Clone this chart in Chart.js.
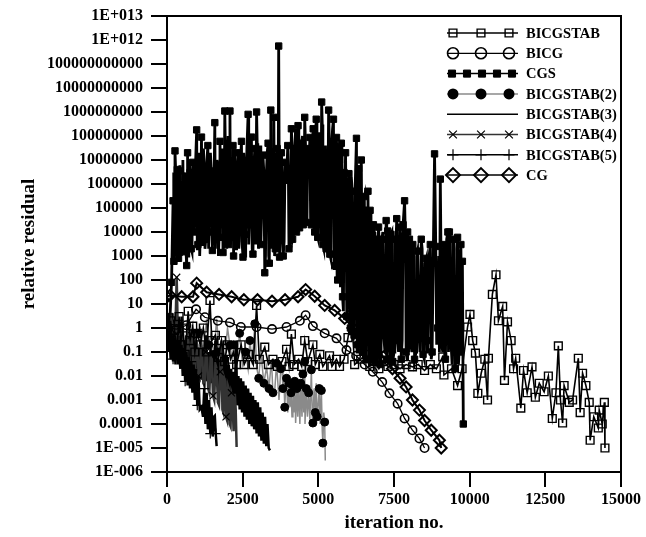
<!DOCTYPE html>
<html>
<head>
<meta charset="utf-8">
<script src="https://cdn.jsdelivr.net/npm/chart.js@4.4.1/dist/chart.umd.min.js"></script>
<style>
  html, body { margin: 0; padding: 0; background: #fff; }
  canvas { display: block; }
</style>
</head>
<body>
<canvas id="chart" width="646" height="537"></canvas>
<script>
// tick labels
const yTickValues = [1e13, 1e12, 1e11, 1e10, 1e9, 1e8, 1e7, 1e6, 1e5, 1e4, 1e3, 1e2, 1e1, 1, 0.1, 0.01, 0.001, 0.0001, 1e-5, 1e-6];
const yTickLabels = ['1E+013', '1E+012', '100000000000', '10000000000', '1000000000', '100000000', '10000000', '1000000',
  '100000', '10000', '1000', '100', '10', '1', '0.1', '0.01', '0.001', '0.0001', '1E-005', '1E-006'];
const xTickLabels = ['0', '2500', '5000', '7500', '10000', '12500', '15000'];

const seriesNames = ['BICGSTAB', 'BICG', 'CGS', 'BICGSTAB(2)', 'BICGSTAB(3)', 'BICGSTAB(4)', 'BICGSTAB(5)', 'CG'];

// [iteration, relative residual]
const bicgstab = [[0,1],[60,0.3],[120,2],[180,0.2],[250,0.8],[320,0.1],[400,3],[450,0.2],[520,1],[600,0.08],[700,5],[760,0.3],
  [850,1.2],[920,0.1],[1000,0.6],[1100,0.2],[1200,1],[1300,0.1],[1420,14],[1480,0.3],[1600,0.5],[1700,0.06],[1800,0.3],
  [1900,0.04],[2000,0.2],[2100,0.05],[2200,0.1],[2300,0.03],[2450,0.2],[2550,0.03],[2700,0.08],[2850,0.03],[2960,8.7],
  [3050,0.05],[3230,0.16],[3350,0.03],[3500,0.05],[3650,0.025],[3800,0.04],[3950,0.13],[4030,0.025],[4110,0.56],[4200,0.03],
  [4350,0.05],[4450,0.025],[4550,0.3],[4650,0.04],[4820,0.2],[4900,0.03],[5050,0.08],[5150,0.025],[5370,0.07],[5450,0.025],
  [5600,0.05],[5700,0.025],[5850,0.05],[5980,0.4],[6090,3.5],[6200,0.03],[6400,0.05],[6590,0.08],[6700,0.025],[6850,0.04],
  [7000,0.02],[7150,0.04],[7300,0.025],[7500,0.03],[7700,0.02],[7900,0.03],[8110,0.024],[8300,0.03],[8510,0.017],[8700,0.03],
  [8900,0.02],[9110,0.063],[9150,0.011],[9400,0.02],[9600,0.004],[9750,0.02],[9930,1.1],[10010,3.7],[10100,0.3],[10190,0.09],
  [10270,0.0019],[10380,0.013],[10500,0.05],[10590,0.001],[10620,0.055],[10750,25],[10870,165],[10950,2],[11090,8],
  [11150,0.0066],[11250,1.8],[11370,0.3],[11450,0.02],[11520,0.055],[11690,4.6e-4],[11780,0.017],[11900,0.002],[12060,0.024],
  [12170,0.0013],[12300,0.005],[12460,0.0022],[12600,0.01],[12730,1.7e-4],[12850,0.002],[12930,0.18],[13000,0.001],
  [13070,1.1e-4],[13120,0.004],[13290,8e-4],[13400,0.001],[13590,0.055],[13650,3e-4],[13730,0.013],[13840,0.004],[13950,8e-4],
  [13980,2.1e-5],[14100,2e-4],[14250,6.8e-5],[14280,3.8e-4],[14380,1e-4],[14450,8e-4],[14470,1e-5]];

const bicg = [[0,1],[320,0.9],[640,1.3],[960,6],[1250,2.8],[1680,2],[2080,1.7],[2440,1.1],[2960,1.1],[3470,0.9],[3950,1.1],
  [4390,2],[4580,3.4],[4820,1.2],[5210,0.6],[5600,0.37],[5930,0.12],[6250,0.07],[6530,0.03],[6800,0.015],[7110,0.0056],
  [7350,0.0019],[7620,7e-4],[7850,1.7e-4],[8110,5.5e-5],[8340,2.5e-5],[8510,1e-5]];

// CGS: marked extremes
const cgsPeaks = [[0,1],[100,3],[150,80],[200,2e5],[230,600],[264,2.4e7],[300,3e4],[340,4e6],[380,800],[400,3.5e6],[450,2e4],
  [500,8e5],[550,1500],[600,2e6],[650,400],[680,2e7],[720,5e3],[760,3e6],[800,2e3],[850,8e6],[900,1e4],[980,1.8e8],[1020,3e3],
  [1060,5e6],[1100,8e3],[1140,9e7],[1180,2e4],[1230,4e6],[1280,5e3],[1350,4e7],[1400,1e4],[1470,2e6],[1500,1.7e3],[1580,3.6e8],
  [1620,3e4],[1680,5e6],[1720,6e3],[1750,6e7],[1800,2e4],[1850,1.4e3],[1910,1.1e9],[1950,5e4],[2000,8e6],[2040,3e3],[2080,1.1e9],
  [2120,2e4],[2180,4e7],[2200,1e3],[2260,6e6],[2300,5e3],[2350,2e7],[2400,1.5e4],[2460,6e7],[2510,900],[2560,5e6],[2600,8e3],
  [2680,8e8],[2720,2e4],[2790,9e7],[2840,1.2e3],[2900,3e7],[2960,1e9],[3000,1e4],[3050,5e6],[3100,3e3],[3170,1.6e7],[3230,200],
  [3280,2e6],[3340,5e7],[3380,500],[3430,1.2e9],[3480,8e3],[3530,6e8],[3580,2e3],[3640,3e7],[3690,5.6e11],[3720,900],[3780,2e7],
  [3840,1e3],[3900,8e6],[3990,4e7],[4030,2e3],[4110,2e8],[4150,5e3],[4220,3e7],[4280,1e4],[4330,2.7e8],[4380,1.5e4],[4450,5e7],
  [4500,2e4],[4550,6e8],[4600,2.5e4],[4650,3e7],[4720,8.7e7],[4770,2e4],[4830,2e8],[4880,1e4],[4930,5e8],[4980,6e3],[5050,1e8],
  [5110,2.6e9],[5150,3e3],[5210,1.1e7],[5260,2e3],[5340,1.2e9],[5380,1.2e3],[5440,4e7],[5500,5e8],[5540,400],[5600,8.7e7],
  [5640,100],[5700,1e7],[5760,5e7],[5800,20],[5850,3e6],[5900,2e7],[5940,3],[6010,2.7e6],[6060,1],[6120,5e5],[6180,0.5],
  [6260,8e7],[6300,0.2],[6330,4.4e6],[6380,0.3],[6420,1e7],[6460,0.1],[6520,3e5],[6580,0.05],[6640,5e5],[6710,8e4],[6760,0.05],
  [6820,2e4],[6870,0.04],[6910,5e3],[6950,0.1],[6990,1.6e4],[7040,0.03],[7100,5e3],[7160,0.5],[7240,3e4],[7260,0.05],[7290,1.1e4],
  [7340,0.2],[7400,8e3],[7460,0.04],[7530,5e3],[7590,3.6e4],[7620,0.3],[7690,1.6e4],[7740,0.05],[7800,2e4],[7850,2e5],[7900,0.1],
  [7950,1e4],[8010,5e3],[8060,0.2],[8120,3e3],[8180,0.05],[8280,1.6e3],[8330,0.5],[8400,5e3],[8460,0.08],[8570,800],[8620,0.3],
  [8700,3e3],[8760,0.1],[8840,1.8e7],[8880,2.5e3],[8940,1],[9030,1.6e6],[9080,0.2],[9150,3e3],[9200,0.05],[9280,1e4],[9330,1e4],
  [9380,0.3],[9450,5e3],[9520,0.02],[9600,6e3],[9650,0.1],[9710,3e3],[9760,600],[9790,1e-4]];

// CGS: in-between readings of the dense band
const cgsBand = [[215,3e6],[248,2e3],[282,5e6],[320,1e3],[360,2e5],[425,6e6],[475,1e3],[525,1e7],[575,3e6],[625,2e3],
  [665,5e5],[700,1e3],[740,8e6],[780,1e5],[825,1.5e3],[875,3e5],[940,5e6],[1000,2e3],[1040,2e7],[1080,1e3],[1120,1e6],
  [1160,3e3],[1205,3e7],[1255,2e3],[1315,8e6],[1375,2e3],[1435,2e7],[1485,5e6],[1540,6e4],[1600,2e3],[1650,1e7],[1700,1e3],
  [1775,2e6],[1825,3e7],[1880,3e3],[1930,2e7],[1975,2e3],[2020,1e8],[2060,2e6],[2100,3e3],[2150,3e6],[2230,3e7],[2280,2e3],
  [2325,4e5],[2375,2e3],[2430,1e7],[2485,3e3],[2535,2e7],[2580,1e3],[2640,3e7],[2700,3e3],[2750,1e7],[2815,2e3],[2870,5e6],
  [2930,3e3],[2980,5e7],[3025,2e3],[3075,4e7],[3135,2e5],[3200,3e6],[3255,1e3],[3310,2e7],[3360,1e3],[3405,1e7],[3455,2e3],
  [3505,2e7],[3555,1e3],[3610,8e6],[3665,2e3],[3750,5e3],[3810,2e6],[3870,4e3],[3945,1e6],[4010,3e6],[4070,4e3],[4130,4e7],
  [4185,8e3],[4250,2e8],[4305,1e4],[4355,2e7],[4415,2e4],[4475,1e8],[4525,3e4],[4575,5e7],[4625,3e4],[4685,3e6],[4745,3e4],
  [4800,5e7],[4855,1.5e4],[4905,1e8],[4955,8e3],[5010,5e7],[5080,4e3],[5130,3e8],[5180,2e3],[5235,4e7],[5300,1.5e3],
  [5360,8e7],[5410,800],[5470,2e8],[5520,300],[5570,2e7],[5620,150],[5670,5e7],[5730,50],[5780,3e7],[5830,5],[5880,1e6],
  [5970,5e5],[6040,0.5],[6090,2e6],[6150,0.3],[6220,1e6],[6280,0.1],[6355,3e5],[6400,0.1],[6490,2e5],[6550,0.05],[6610,1e5],
  [6680,0.03],[6740,5e4],[6790,0.1],[6850,1e4],[6930,0.05],[6970,3e3],[7020,2e3],[7070,0.05],[7130,1e4],[7200,0.1],[7320,5e3],
  [7370,0.05],[7430,1e4],[7500,0.1],[7560,2e3],[7650,0.1],[7720,5e3],[7770,0.3],[7880,3e3],[7930,0.05],[7980,0.1],[8040,3e3],
  [8090,0.1],[8150,1e3],[8230,0.1],[8250,1e3],[8360,0.1],[8430,2e3],[8500,0.05],[8530,500],[8600,0.1],[8660,1e3],[8730,0.05],
  [8800,2e3],[8910,0.2],[8980,1e3],[9000,0.1],[9110,0.1],[9120,2e3],[9180,0.05],[9240,5e3],[9300,0.1],[9350,2e3],[9420,0.03],
  [9480,1e3],[9550,0.05],[9580,2e3],[9630,0.03],[9680,1e3],[9740,0.1]];

const bicgstab2 = [[0,1],[100,0.3],[200,1.5],[300,0.2],[400,1.2],[500,0.3],[600,0.1],[700,1],[800,0.15],[900,0.2],[1000,0.6],
  [1100,1],[1200,0.1],[1310,2.3],[1380,0.2],[1450,0.5],[1550,0.08],[1640,2.4],[1720,0.1],[1800,0.3],[1900,0.05],[2000,1],
  [2080,0.19],[2150,0.05],[2200,0.2],[2300,0.04],[2400,0.6],[2500,0.03],[2600,0.1],[2680,0.02],[2740,0.3],[2820,0.03],
  [2900,1.5],[2960,0.024],[3030,0.008],[3100,0.1],[3200,0.005],[3290,0.024],[3370,0.003],[3450,0.05],[3500,0.002],
  [3560,0.0025],[3620,0.034],[3700,0.001],[3760,0.02],[3800,0.02],[3830,0.003],[3860,0.01],[3890,5e-4],[3920,0.003],
  [3950,0.008],[3990,3e-4],[4030,0.005],[4060,5e-4],[4100,0.002],[4130,2e-4],[4160,0.004],[4190,3e-4],[4220,0.006],
  [4250,1.1e-4],[4290,0.003],[4320,2e-4],[4350,0.004],[4390,1e-4],[4420,0.005],[4460,2e-4],[4490,0.012],[4520,3e-4],
  [4550,0.04],[4560,1e-4],[4600,0.003],[4640,2e-4],[4680,0.002],[4720,1.5e-4],[4770,0.018],[4800,2e-4],[4820,1.1e-4],
  [4860,0.003],[4900,3e-4],[4930,0.005],[4960,2e-4],[4990,5e-4],[5030,0.003],[5060,1e-4],[5100,0.0025],[5130,5e-5],
  [5150,1.6e-5],[5180,3e-4],[5210,1.2e-4],[5230,3e-6]];

const bicgstab3 = [[0,1],[40,0.1],[80,0.5],[120,0.05],[160,0.8],[200,0.04],[240,0.4],[280,0.03],[320,0.6],[360,0.05],
  [400,0.3],[440,0.02],[480,3],[520,0.03],[560,0.3],[600,0.02],[640,0.5],[680,0.02],[720,0.2],[760,0.01],[800,0.4],
  [840,0.015],[880,0.2],[920,0.01],[960,0.3],[1000,0.02],[1040,0.15],[1080,0.01],[1120,0.2],[1160,0.008],[1200,0.1],
  [1240,0.01],[1280,0.5],[1320,0.006],[1360,0.1],[1400,0.005],[1440,0.15],[1480,0.005],[1520,0.08],[1560,0.004],
  [1600,0.3],[1640,0.004],[1680,0.06],[1720,0.003],[1760,0.05],[1800,0.003],[1840,0.2],[1880,0.002],[1920,0.05],
  [1960,0.04],[2000,0.002],[2040,0.03],[2080,0.0015],[2120,0.02],[2160,0.001],[2200,0.015],[2240,8e-4],[2280,0.3],
  [2320,6e-4],[2360,0.01],[2400,4e-4],[2440,0.008],[2480,3e-4],[2520,0.006],[2560,2e-4],[2600,0.004],[2640,1.5e-4],
  [2680,0.003],[2720,1e-4],[2760,0.002],[2800,8e-5],[2840,0.0015],[2880,6e-5],[2920,0.001],[2960,4e-5],[3000,8e-4],
  [3040,3e-5],[3080,5e-4],[3120,2e-5],[3160,3e-4],[3200,1.5e-5],[3240,2e-4],[3280,1.2e-5],[3320,1e-4],[3360,1e-5],[3400,8e-6]];

const bicgstab4 = [[0,1],[50,0.3],[100,0.2],[150,2],[200,1],[260,0.1],[320,130],[360,0.5],[400,0.08],[440,0.05],[480,0.6],
  [520,1],[560,0.05],[600,0.03],[640,0.4],[680,0.5],[720,0.03],[760,0.02],[800,0.5],[840,0.3],[880,0.02],[920,0.01],
  [960,0.3],[1000,0.2],[1040,0.01],[1080,0.008],[1120,0.2],[1160,0.1],[1200,0.005],[1240,0.004],[1280,0.1],[1320,0.08],
  [1360,0.003],[1400,0.002],[1440,0.06],[1480,0.05],[1520,0.0015],[1560,0.001],[1600,0.03],[1640,0.02],[1680,8e-4],
  [1720,6e-4],[1760,0.015],[1800,0.3],[1830,4e-4],[1860,3e-4],[1890,0.008],[1920,0.006],[1950,2e-4],[1980,1.5e-4],
  [2010,0.004],[2040,0.003],[2070,1e-4],[2100,8e-5],[2130,0.002],[2160,0.0015],[2200,5e-5],[2240,0.0018],[2270,4e-4],
  [2300,1.1e-5]];

const bicgstab5 = [[0,1],[40,0.2],[80,0.6],[120,0.1],[160,0.5],[200,0.05],[240,0.4],[280,0.05],[320,0.3],[360,0.03],
  [400,0.3],[440,0.02],[480,0.2],[520,0.01],[560,0.15],[600,0.006],[640,0.1],[680,0.004],[720,0.06],[760,0.003],
  [800,0.04],[840,0.002],[880,0.03],[920,0.001],[960,0.02],[1000,6e-4],[1040,0.01],[1080,4e-4],[1140,5e-4],[1190,2e-4],
  [1230,0.003],[1270,1e-4],[1310,0.002],[1350,6e-5],[1390,0.001],[1430,4e-5],[1470,5e-4],[1510,3e-5],[1550,2e-4],
  [1580,2.2e-4],[1610,4e-5],[1640,1.2e-5]];

const cg = [[0,20],[100,23],[485,20],[860,20],[980,74],[1310,31],[1720,25],[2135,20],[2540,15],[2990,15],[3470,13],[3900,15],
  [4330,20],[4580,40],[4880,21],[5210,8.7],[5540,5.4],[5870,2.5],[6140,1],[6530,0.66],[6860,0.19],[7150,0.063],[7450,0.02],
  [7700,0.008],[7900,0.0035],[8110,0.001],[8340,3.8e-4],[8510,1.4e-4],[8730,5.5e-5],[9000,2.1e-5],[9060,1e-5]];

const toPts = (arr) => arr.map(p => ({ x: p[0], y: p[1] }));
const sparse = (n, r) => (ctx) => (ctx.dataIndex % n === 0 ? r : 0);

const cgsAll = cgsPeaks.map(p => [p[0], p[1], true]).concat(cgsBand.map(p => [p[0], p[1], false]))
  .sort((a, b) => a[0] - b[0]);

const datasets = [
  { label: seriesNames[0], data: toPts(bicgstab), borderColor: '#000', borderWidth: 1.6, pointStyle: 'rect', pointRadius: 5.5,
    pointBorderColor: '#000', pointBackgroundColor: 'rgba(0,0,0,0)', pointBorderWidth: 1.4, order: 3 },
  { label: seriesNames[1], data: toPts(bicg), borderColor: '#000', borderWidth: 1.3, pointStyle: 'circle', pointRadius: 4.2,
    pointBorderColor: '#000', pointBackgroundColor: 'rgba(0,0,0,0)', pointBorderWidth: 1.6, order: 2 },
  { label: seriesNames[2], data: toPts(cgsAll), borderColor: '#000', borderWidth: 2.8, pointStyle: 'rect',
    pointRadius: (ctx) => (cgsAll[ctx.dataIndex] && cgsAll[ctx.dataIndex][2] ? 4.5 : 0),
    pointBorderColor: '#000', pointBackgroundColor: '#000', pointBorderWidth: 1, order: 10 },
  { label: seriesNames[3], data: toPts(bicgstab2), borderColor: '#8a8a8a', borderWidth: 1.5, pointStyle: 'circle',
    pointRadius: sparse(2, 4), pointBorderColor: '#000', pointBackgroundColor: '#000', pointBorderWidth: 1, order: 9 },
  { label: seriesNames[4], data: toPts(bicgstab3), borderColor: '#000', borderWidth: 2.5, pointRadius: 0, order: 8 },
  { label: seriesNames[5], data: toPts(bicgstab4), borderColor: '#333', borderWidth: 2.5, pointStyle: 'crossRot',
    pointRadius: sparse(6, 5), pointBorderColor: '#000', pointBorderWidth: 1.2, order: 7 },
  { label: seriesNames[6], data: toPts(bicgstab5), borderColor: '#000', borderWidth: 2.5, pointStyle: 'cross',
    pointRadius: sparse(5, 5), pointBorderColor: '#000', pointBorderWidth: 1.2, order: 6 },
  { label: seriesNames[7], data: toPts(cg), borderColor: '#000', borderWidth: 2, pointStyle: 'rectRot', pointRadius: 5.5,
    pointBorderColor: '#000', pointBackgroundColor: 'rgba(0,0,0,0)', pointBorderWidth: 2, order: 1 }
];

// marker drawer for the legend
function marker(ctx, style, x, y, r, fill, lw) {
  ctx.lineWidth = lw;
  ctx.beginPath();
  if (style === 'rect') {
    const s = r * Math.SQRT1_2;
    ctx.rect(x - s, y - s, 2 * s, 2 * s);
  } else if (style === 'circle') {
    ctx.arc(x, y, r, 0, Math.PI * 2);
  } else if (style === 'rectRot') {
    ctx.moveTo(x, y - r); ctx.lineTo(x + r, y); ctx.lineTo(x, y + r); ctx.lineTo(x - r, y); ctx.closePath();
  } else if (style === 'crossRot') {
    const s = r * Math.SQRT1_2;
    ctx.moveTo(x - s, y - s); ctx.lineTo(x + s, y + s); ctx.moveTo(x + s, y - s); ctx.lineTo(x - s, y + s);
  } else if (style === 'cross') {
    ctx.moveTo(x, y - r); ctx.lineTo(x, y + r); ctx.moveTo(x - r, y); ctx.lineTo(x + r, y);
  }
  if (fill) { ctx.fillStyle = '#000'; ctx.fill(); }
  if (style !== 'circle' || !fill) ctx.stroke();
}

const legendPlugin = {
  id: 'sideLegend',
  afterDraw(chart) {
    const ctx = chart.ctx;
    ctx.save();
    chart.data.datasets.forEach((ds, i) => {
      const y = 33 + i * 20.3;
      ctx.strokeStyle = ds.borderColor;
      ctx.lineWidth = Math.min(ds.borderWidth, 1.5);
      ctx.beginPath(); ctx.moveTo(447, y); ctx.lineTo(518, y); ctx.stroke();
      ctx.strokeStyle = '#000';
      const filled = ds.pointBackgroundColor === '#000';
      const xs = ds.label === 'CGS' ? [452, 467, 482, 497, 512] : [453, 481, 509];
      if (ds.pointStyle) {
        const r = ds.label === 'CGS' ? 5 : (ds.pointStyle === 'rectRot' ? 7 : 5.5);
        xs.forEach(x => marker(ctx, ds.pointStyle, x, y, r, filled, ds.pointBorderWidth));
      }
      ctx.fillStyle = '#000';
      ctx.font = 'bold 14.5px "Liberation Serif"';
      ctx.textBaseline = 'middle';
      ctx.fillText(ds.label, 526, y + 1);
    });
    ctx.restore();
  }
};

const framePlugin = {
  id: 'frame',
  afterDraw(chart) {
    const { ctx, chartArea: a } = chart;
    ctx.save();
    ctx.strokeStyle = '#000';
    ctx.lineWidth = 2;
    ctx.beginPath();
    ctx.moveTo(a.left, a.top); ctx.lineTo(a.right, a.top); ctx.lineTo(a.right, a.bottom);
    ctx.stroke();
    ctx.restore();
  }
};

const tickFont = { family: '"Liberation Serif"', size: 16, weight: 'bold', lineHeight: 1 };

new Chart(document.getElementById('chart'), {
  type: 'line',
  data: { datasets },
  plugins: [framePlugin, legendPlugin],
  options: {
    responsive: false,
    animation: false,
    devicePixelRatio: 1,
    layout: { padding: { left: 0, top: 7, right: 4, bottom: 0 } },
    elements: { line: { tension: 0 } },
    plugins: { legend: { display: false }, tooltip: { enabled: false } },
    scales: {
      x: {
        type: 'linear', min: 0, max: 15000,
        afterBuildTicks: (scale) => { scale.ticks = xTickLabels.map(t => ({ value: Number(t) })); },
        afterFit: (scale) => { scale.height = 65; },
        ticks: { font: tickFont, color: '#000', padding: 5, autoSkip: false, maxRotation: 0,
          callback: (v, i) => xTickLabels[i] },
        grid: { drawOnChartArea: false, drawTicks: true, tickLength: 15, color: '#000', lineWidth: 2 },
        border: { color: '#000', width: 2 },
        title: { display: true, text: 'iteration no.', color: '#000',
          font: { family: '"Liberation Serif"', size: 19, weight: 'bold' }, padding: { top: 0, bottom: 3 } }
      },
      y: {
        type: 'logarithmic', min: 1e-6, max: 1e13,
        afterBuildTicks: (scale) => { scale.ticks = yTickValues.map(v => ({ value: v })); },
        afterFit: (scale) => { scale.width = 167; },
        ticks: { font: tickFont, color: '#000', padding: 8, autoSkip: false,
          callback: (v) => yTickLabels[yTickValues.indexOf(v)] },
        grid: { drawOnChartArea: false, drawTicks: true, tickLength: 16, color: '#000', lineWidth: 2 },
        border: { color: '#000', width: 2 },
        title: { display: true, text: 'relative residual', color: '#000',
          font: { family: '"Liberation Serif"', size: 19, weight: 'bold' }, padding: { top: 18, bottom: 0 } }
      }
    }
  }
});
</script>
</body>
</html>
